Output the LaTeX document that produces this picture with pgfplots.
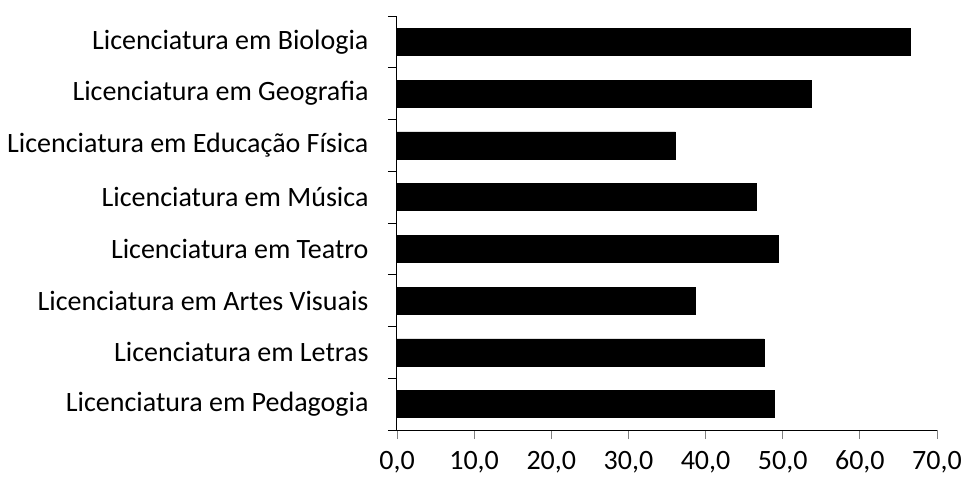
\documentclass[border=0pt]{standalone}
\usepackage{pgfplots}
\pgfplotsset{compat=1.18}
\usepackage{fontspec}
\setmainfont{Carlito}

\begin{document}
\begin{tikzpicture}
\useasboundingbox (-397pt,-52pt) rectangle (569pt,430pt);
\begin{axis}[
    xbar,
    scale only axis,
    width=540pt,
    height=414pt,
    xmin=0, xmax=70,
    ymin=-0.5, ymax=7.5,
    axis lines*=left,
    axis line style={line width=1pt},
    xtick={0,10,...,70},
    ytick={0,...,7},
    yticklabels={Licenciatura em Pedagogia, Licenciatura em Letras,
        Licenciatura em Artes Visuais, Licenciatura em Teatro,
        Licenciatura em Música, Licenciatura em Educação Física,
        Licenciatura em Geografia, Licenciatura em Biologia},
    minor ytick={-0.5,0.5,...,7.5},
    tick align=outside,
    major tick length=9pt,
    minor tick length=9pt,
    y tick style={draw=none},
    minor y tick style={draw=black, line width=0.8pt},
    x tick style={line width=0.8pt},
    tick label style={font=\fontsize{28}{30}\selectfont},
    yticklabel style={xshift=-16pt},
    xticklabel style={yshift=-9pt, text height=18pt, text depth=5pt},
    /pgf/number format/.cd, fixed, fixed zerofill, precision=1, use comma,
        assume math mode=true,
    /pgfplots/.cd,
    bar width=27pt,
]
\addplot[fill=black, draw=black] coordinates {
    (48.9,0) (47.6,1) (38.7,2) (49.4,3)
    (46.6,4) (36.1,5) (53.7,6) (66.5,7)
};
\end{axis}
\end{tikzpicture}
\end{document}
